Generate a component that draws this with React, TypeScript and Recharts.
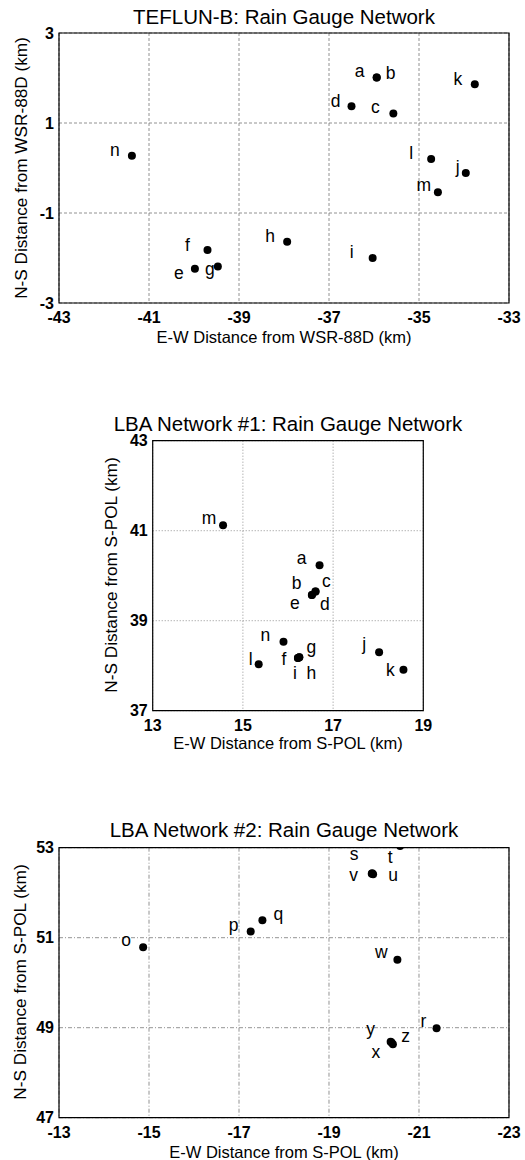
import React from "react";
import { ScatterChart, Scatter, XAxis, YAxis, CartesianGrid, ReferenceArea } from "recharts";

const FONT = '"Liberation Sans", Arial, Helvetica, sans-serif';

// TEFLUN-B gauges, km from the WSR-88D
const teflunGauges = ["a", "b", "c", "d", "e", "f", "g", "h", "i", "j", "k", "l", "m", "n"];
const teflunEW = [-35.94, -35.94, -35.57, -36.5, -39.98, -39.7, -39.47, -37.93, -36.03, -33.96, -33.76, -34.73, -34.58, -41.38];
const teflunNS = [2.01, 2.01, 1.21, 1.37, -2.24, -1.82, -2.19, -1.64, -2.0, -0.11, 1.86, 0.2, -0.54, 0.27];
const teflunXTicks = [-43, -41, -39, -37, -35, -33];
const teflunYTicks = [-3, -1, 1, 3];

// LBA network #1, km from S-POL
const lba1Gauges = ["a", "b", "c", "d", "e", "f", "g", "h", "i", "j", "k", "l", "m", "n"];
const lba1EW = [16.7, 16.61, 16.61, 16.53, 16.53, 16.22, 16.25, 16.25, 16.22, 18.02, 18.56, 15.35, 14.56, 15.9];
const lba1NS = [40.23, 39.65, 39.65, 39.57, 39.57, 38.17, 38.19, 38.19, 38.17, 38.3, 37.91, 38.03, 41.12, 38.53];
const lba1XTicks = [13, 15, 17, 19];
const lba1YTicks = [37, 39, 41, 43];

// LBA network #2, km from S-POL
const lba2Gauges = ["o", "p", "q", "r", "s", "t", "u", "v", "w", "x", "y", "z"];
const lba2EW = [-14.87, -17.26, -17.52, -21.39, -19.96, -20.58, -19.98, -19.95, -20.52, -20.42, -20.37, -20.39];
const lba2NS = [50.79, 51.14, 51.39, 48.99, 52.43, 53.04, 52.41, 52.42, 50.51, 48.63, 48.69, 48.67];
const lba2XTicks = [-13, -15, -17, -19, -21, -23];
const lba2YTicks = [47, 49, 51, 53];

type Gauge = { name: string; x: number; y: number };

const toGauges = (names: string[], xs: number[], ys: number[]): Gauge[] =>
  names.map((name, i) => ({ name, x: xs[i], y: ys[i] }));

// label offset from the dot: [dx of text centre, dy of text baseline]
const teflunLabelAt: Record<string, [number, number]> = {
  a: [-17, -1], b: [14, 1], c: [-18, -1], d: [-16, 1], e: [-16, 10], f: [-20, 1], g: [-8, 8.5],
  h: [-17, 0], i: [-21, 0], j: [-8, 0], k: [-17, 1], l: [-20, 0], m: [-14, -1], n: [-17, 0],
};
const lba1LabelAt: Record<string, [number, number]> = {
  a: [-18, -1], b: [-19, -2], c: [11, -4], d: [13, 15], e: [-17, 14], f: [-14, 7], g: [12, -4],
  h: [12, 22], i: [-3, 21], j: [-15, -2], k: [-13, 6], l: [-8, 1], m: [-14, -1], n: [-18, -1],
};
const lba2LabelAt: Record<string, [number, number]> = {
  o: [-17, -1], p: [-17, 0], q: [16, 0], r: [-13, -1], s: [-18, -13], t: [-10, 17.5], u: [20, 7],
  v: [-18, 7], w: [-16, -2], x: [-17, 14], y: [-20, -7], z: [14, -1],
};

const gaugeShape = (labelAt: Record<string, [number, number]>) => (props: any) => {
  const { cx, cy, payload } = props;
  const [dx, dy] = labelAt[payload.name] ?? [-16, 0];
  return (
    <g>
      <circle cx={cx} cy={cy} r={4} fill="#000" />
      <text x={cx + dx} y={cy + dy} textAnchor="middle" fontSize={17.5} fontFamily={FONT} fill="#000">
        {payload.name}
      </text>
    </g>
  );
};

const tickStyle = { fill: "#000", fontSize: 16, fontWeight: 700, fontFamily: FONT };

interface PanelProps {
  top: number;
  plotTop: number;
  plotLeft: number;
  plotRight: number;
  data: Gauge[];
  xTicks: number[];
  yTicks: number[];
  labelAt: Record<string, [number, number]>;
  dash: string;
  reversed?: boolean;
}

function GaugePanel({ top, plotTop, plotLeft, plotRight, data, xTicks, yTicks, labelAt, dash, reversed }: PanelProps) {
  const xMin = Math.min(...xTicks);
  const xMax = Math.max(...xTicks);
  const yMin = Math.min(...yTicks);
  const yMax = Math.max(...yTicks);
  return (
    <div style={{ position: "absolute", left: 0, top }}>
      <ScatterChart width={525} height={plotTop + 270 + 25} margin={{ top: plotTop, right: 525 - plotRight, bottom: 0, left: 0 }}>
        <CartesianGrid stroke="#777" strokeDasharray={dash} strokeWidth={0.8} />
        <XAxis
          type="number"
          dataKey="x"
          domain={[xMin, xMax]}
          ticks={xTicks}
          interval={0}
          reversed={reversed}
          allowDataOverflow
          axisLine={false}
          tickLine={false}
          tickSize={0}
          tickMargin={9}
          height={25}
          tick={tickStyle}
        />
        <YAxis
          type="number"
          dataKey="y"
          domain={[yMin, yMax]}
          ticks={yTicks}
          interval={0}
          allowDataOverflow
          axisLine={false}
          tickLine={false}
          tickSize={0}
          tickMargin={5}
          width={plotLeft}
          tick={tickStyle}
        />
        <ReferenceArea x1={xMin} x2={xMax} y1={yMin} y2={yMax} fill="none" stroke="#000" strokeWidth={1.2} />
        <Scatter data={data} isAnimationActive={false} shape={gaugeShape(labelAt)} />
      </ScatterChart>
    </div>
  );
}

const titleStyle = { fontSize: 20.5, fontFamily: FONT, fill: "#000" };
const axisTitleStyle = { fontSize: 16.5, fontFamily: FONT, fill: "#000" };
const sideTitleStyle = { fontSize: 17.2, fontFamily: FONT, fill: "#000" };

export default function App() {
  return (
    <div style={{ position: "absolute", left: 0, top: 0, width: 525, height: 1160, background: "#fff" }}>
      <GaugePanel
        top={0}
        plotTop={33}
        plotLeft={59}
        plotRight={509}
        data={toGauges(teflunGauges, teflunEW, teflunNS)}
        xTicks={teflunXTicks}
        yTicks={teflunYTicks}
        labelAt={teflunLabelAt}
        dash="3 2"
      />
      <GaugePanel
        top={380}
        plotTop={60.7}
        plotLeft={152.7}
        plotRight={423.3}
        data={toGauges(lba1Gauges, lba1EW, lba1NS)}
        xTicks={lba1XTicks}
        yTicks={lba1YTicks}
        labelAt={lba1LabelAt}
        dash="1 2"
      />
      <GaugePanel
        top={810}
        plotTop={37.7}
        plotLeft={59}
        plotRight={509}
        data={toGauges(lba2Gauges, lba2EW, lba2NS)}
        xTicks={lba2XTicks}
        yTicks={lba2YTicks}
        labelAt={lba2LabelAt}
        dash="4 2 1 2"
        reversed
      />
      <svg width={525} height={1160} style={{ position: "absolute", left: 0, top: 0, pointerEvents: "none" }}>
        <text x={284} y={24} textAnchor="middle" {...titleStyle}>TEFLUN-B: Rain Gauge Network</text>
        <text x={284} y={343} textAnchor="middle" {...axisTitleStyle}>E-W Distance from WSR-88D (km)</text>
        <text x={27} y={168} textAnchor="middle" transform="rotate(-90 27 168)" {...sideTitleStyle}>
          N-S Distance from WSR-88D (km)
        </text>

        <text x={288} y={431} textAnchor="middle" {...titleStyle}>LBA Network #1: Rain Gauge Network</text>
        <text x={288} y={749} textAnchor="middle" {...axisTitleStyle}>E-W Distance from S-POL (km)</text>
        <text x={117} y={575} textAnchor="middle" transform="rotate(-90 117 575)" {...sideTitleStyle}>
          N-S Distance from S-POL (km)
        </text>

        <text x={284} y={837} textAnchor="middle" {...titleStyle}>LBA Network #2: Rain Gauge Network</text>
        <text x={284} y={1158} textAnchor="middle" {...axisTitleStyle}>E-W Distance from S-POL (km)</text>
        <text x={26} y={982} textAnchor="middle" transform="rotate(-90 26 982)" {...sideTitleStyle}>
          N-S Distance from S-POL (km)
        </text>
      </svg>
    </div>
  );
}
